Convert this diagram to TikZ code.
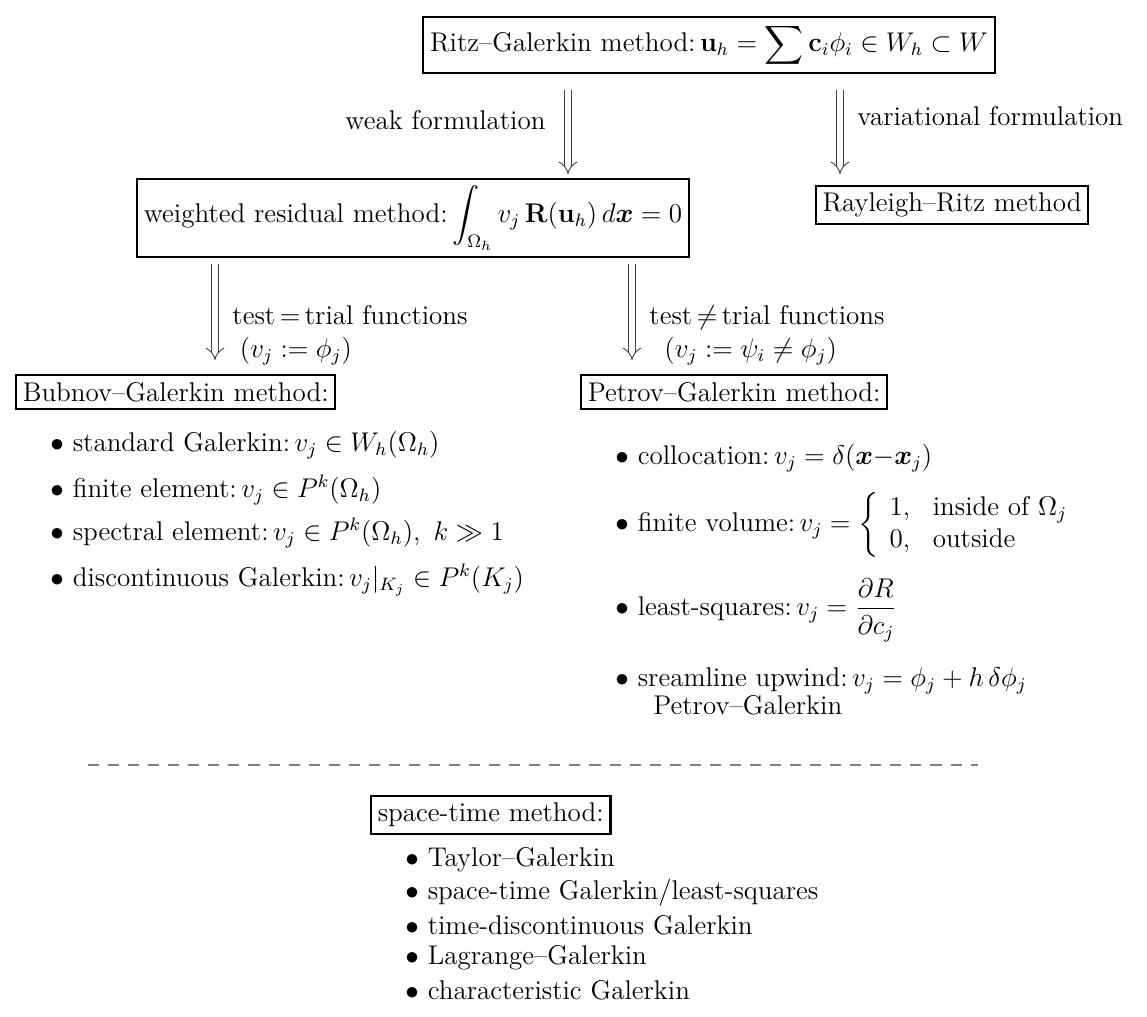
\documentclass[12pt,tikz,border=0pt]{standalone}
\usepackage{amsmath}
\usepackage{amssymb}
\usepackage{bm}
\usetikzlibrary{positioning,arrows.meta}

\begin{document}
\begin{tikzpicture}[x=0.0156cm, y=-0.0156cm,
		box/.style={rectangle, draw=black, line width=0.9pt, inner sep=3pt},
		darr/.style={double, double distance=2.6pt, draw=black!75, line width=0.4pt, -{Implies}},
		item/.style={rectangle, anchor=west, inner sep=0pt}]
		\useasboundingbox (0,0) rectangle (1147,1017);

		% boxes
		\node[box] (ritz) at (709,45) {Ritz--Galerkin method:\,$\displaystyle \mathbf{u}_h = \sum \mathbf{c}_i\phi_i \in W_h \subset W$};
		\node[box] (wrm) at (413,218) {weighted residual method:\,$\displaystyle \int_{\Omega_h} v_j\, \mathbf{R}(\mathbf{u}_h)\, d\bm{x} = 0$};
		\node[box] (rr) at (952,205) {Rayleigh--Ritz method};
		\node[box, anchor=west] (bg) at (15,392) {Bubnov--Galerkin method:};
		\node[box, anchor=west] (pg) at (580,392) {Petrov--Galerkin method:};
		\node[box, anchor=west] (st) at (370,815) {space-time method:};

		% arrows
		\coordinate (wf1) at (568,90);
		\coordinate (wf2) at (568,174);
		\coordinate (vf1) at (840,90);
		\coordinate (vf2) at (840,174);
		\coordinate (tt1) at (215,264);
		\coordinate (tt2) at (215,360);
		\coordinate (tn1) at (632,264);
		\coordinate (tn2) at (632,360);
		\draw[darr] (wf1) -- (wf2);
		\draw[darr] (vf1) -- (vf2);
		\draw[darr] (tt1) -- (tt2);
		\draw[darr] (tn1) -- (tn2);
		\node[rectangle, anchor=east] (wfl) at (555,120) {weak formulation};
		\node[rectangle, anchor=west] (vfl) at (848,116) {variational formulation};
		\node[rectangle, anchor=west, align=left] (ttl) at (223,335) {test$\,=\,$trial functions\\ \;$(v_j := \phi_j)$};
		\node[rectangle, anchor=west, align=left] (tnl) at (640,335) {test$\,\neq\,$trial functions\\ \;\;$(v_j := \psi_i \neq \phi_j)$};

		% Bubnov--Galerkin
		\node[item] (bg1) at (50,445) {$\bullet$ standard Galerkin:\,$v_j \in W_h(\Omega_h)$};
		\node[item] (bg2) at (50,490) {$\bullet$ finite element:\,$v_j \in P^k(\Omega_h)$};
		\node[item] (bg3) at (50,533) {$\bullet$ spectral element:\,$v_j \in P^k(\Omega_h),\ k \gg 1$};
		\node[item] (bg4) at (50,580) {$\bullet$ discontinuous Galerkin:\,$v_j|_{K_j} \in P^k(K_j)$};

		% Petrov--Galerkin
		\node[item] (pg1) at (615,458) {$\bullet$ collocation:\,$v_j = \delta(\bm{x}{-}\bm{x}_j)$};
		\node[item] (pg2) at (615,525) {$\bullet$ finite volume:\,$v_j = \left\{\begin{array}{ll} 1, & \text{inside of } \Omega_j\\ 0, & \text{outside}\end{array}\right.$};
		\node[item] (pg3) at (615,610) {$\bullet$ least-squares:\,$v_j = \dfrac{\partial R}{\partial c_j}$};
		\node[item, align=left] (pg4) at (615,691) {$\bullet$ sreamline upwind:\,$v_j = \phi_j + h\,\delta\phi_j$\\[-2pt] \hspace{1.4em}Petrov--Galerkin};

		% separator
		\coordinate (sep1) at (88,765);
		\coordinate (sep2) at (978,765);
		\draw[gray, line width=0.8pt, dash pattern=on 4.9pt off 4pt] (sep1) -- (sep2);

		% space-time
		\node[item] (st1) at (405,860) {$\bullet$ Taylor--Galerkin};
		\node[item] (st2) at (405,893) {$\bullet$ space-time Galerkin/least-squares};
		\node[item] (st3) at (405,925) {$\bullet$ time-discontinuous Galerkin};
		\node[item] (st4) at (405,958) {$\bullet$ Lagrange--Galerkin};
		\node[item] (st5) at (405,990) {$\bullet$ characteristic Galerkin};
	\end{tikzpicture}
\end{document}
